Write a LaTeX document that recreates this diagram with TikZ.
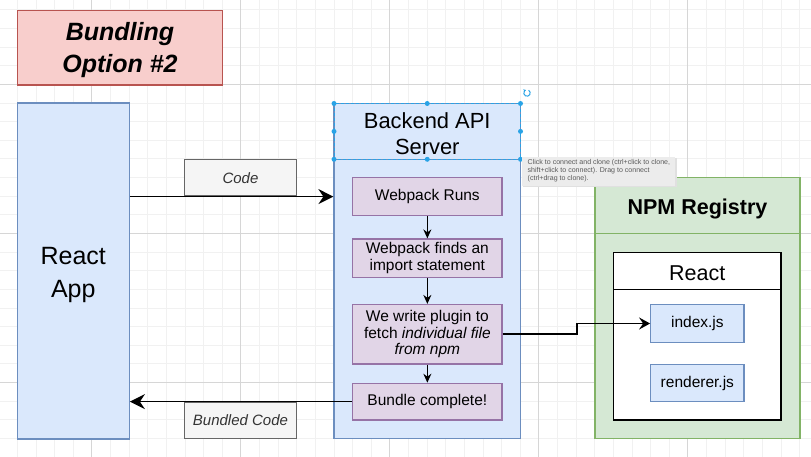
\documentclass[tikz,border=0pt]{standalone}
\usepackage{fontspec}
\setmainfont{Liberation Sans}
\usetikzlibrary{arrows.meta}
\definecolor{blueF}{HTML}{DAE8FC}
\definecolor{blueS}{HTML}{6C8EBF}
\definecolor{redF}{HTML}{F8CECC}
\definecolor{redS}{HTML}{B85450}
\definecolor{purF}{HTML}{E1D5E7}
\definecolor{purS}{HTML}{9673A6}
\definecolor{grnF}{HTML}{D5E8D4}
\definecolor{grnS}{HTML}{82B366}
\definecolor{gryF}{HTML}{F5F5F5}
\definecolor{gryS}{HTML}{666666}
\definecolor{gryT}{HTML}{333333}
\definecolor{gridMinor}{HTML}{F1F1F1}
\definecolor{gridMajor}{HTML}{D6D6D6}
\definecolor{selBlue}{HTML}{29A3E6}
\definecolor{tipF}{HTML}{ECECEC}
\definecolor{tipT}{HTML}{5A5A5A}
\begin{document}
\begin{tikzpicture}[x=1pt,y=-1pt,
  box/.style={draw, line width=1.2pt, inner sep=0pt, align=center, text=black},
  bluebox/.style={box, fill=blueF, draw=blueS},
  purbox/.style={box, fill=purF, draw=purS, minimum width=149.3pt, font=\fontsize{15.5}{16.7}\selectfont},
  lblbox/.style={box, fill=gryF, draw=gryS, text=gryT, minimum width=112.4pt, minimum height=36.7pt, font=\fontsize{15}{17}\selectfont\itshape},
  conn/.style={draw=black, line width=1.6pt},
  bigtip/.style={-{Stealth[length=15pt,width=15pt,inset=5pt]}},
  smalltip/.style={-{Stealth[length=9pt,width=8pt,inset=3pt]}},
  midtip/.style={-{Stealth[length=11pt,width=12pt,inset=4pt]}},
  handle/.style={circle, fill=selBlue, inner sep=0pt, minimum size=5pt}
]
\useasboundingbox (0,0) rectangle (811,457);
\fill[white] (0,0) rectangle (811,457);
% grid
\foreach \i in {0,...,42} {\draw[gridMinor, line width=0.6pt] (17.2+18.625*\i,0) -- (17.2+18.625*\i,457);}
\foreach \j in {0,...,24} {\draw[gridMinor, line width=0.6pt] (0,9.8+18.625*\j) -- (811,9.8+18.625*\j);}
\foreach \i in {0,...,4} {\draw[gridMajor, line width=0.8pt] (91.7+149*\i,0) -- (91.7+149*\i,457);}
\foreach \j in {0,...,2} {\draw[gridMajor, line width=0.8pt] (0,84.3+149*\j) -- (811,84.3+149*\j);}

% title
\node[box, fill=redF, draw=redS, minimum width=205.4pt, minimum height=74.7pt] (title) at (120,47.7) {};
\node[inner sep=0pt, align=center, font=\fontsize{25}{32}\selectfont\bfseries\itshape] (titletext) at (120,50) {Bundling\\Option \#2};

% React App
\node[bluebox, minimum width=112pt, minimum height=336pt] (react) at (73.3,271) {};
\node[inner sep=0pt, align=center, font=\fontsize{25}{33}\selectfont] (reacttext) at (73.3,275) {React\\App};

% Backend
\node[bluebox, minimum width=186.5pt, minimum height=335pt] (backend) at (427.25,271) {};
\coordinate (bhl) at (334,159.3);
\coordinate (bhr) at (520.5,159.3);
\draw[blueS, line width=1.2pt] (bhl) -- (bhr);
\node[align=center, inner sep=0pt, font=\fontsize{21.9}{26}\selectfont] (backendtitle) at (427.25,133.5) {Backend API\\Server};

\node[purbox, minimum height=38pt] (w1) at (427.35,196.7) {Webpack Runs};
\node[purbox, minimum height=38.3pt] (w2) at (427.35,258.15) {Webpack finds an\\import statement};
\node[purbox, minimum height=59.5pt] (w3) at (427.35,334.25) {We write plugin to\\fetch \textit{individual file}\\\textit{from npm}};
\node[purbox, minimum height=36.7pt] (w4) at (427.35,401.65) {Bundle complete!};
\draw[conn, smalltip] (w1) -- (w2);
\draw[conn, smalltip] (w2) -- (w3);
\draw[conn, smalltip] (w3) -- (w4);

% labels and arrows
\node[lblbox] (codelbl) at (240.5,177.65) {Code};
\node[lblbox] (bundlbl) at (240.5,420.35) {Bundled Code};
\draw[conn, bigtip] (react.east |- codelbl.south) -- (backend.west |- codelbl.south);
\draw[conn, bigtip] (w4.west) -- (react.east |- w4.west);

% NPM Registry
\node[box, fill=grnF, draw=grnS, minimum width=205pt, minimum height=261pt] (npm) at (697.5,307.8) {};
\coordinate (nhl) at (595,233.3);
\coordinate (nhr) at (800,233.3);
\draw[grnS, line width=1.2pt] (nhl) -- (nhr);
\node[inner sep=0pt, font=\fontsize{21.5}{26}\selectfont\bfseries] (npmtitle) at (697.5,209) {NPM Registry};

\node[box, fill=white, draw=black, minimum width=167.7pt, minimum height=167.3pt] (reactpkg) at (697.15,336.35) {};
\coordinate (rhl) at (613.3,289.3);
\coordinate (rhr) at (781,289.3);
\draw[black, line width=1.2pt] (rhl) -- (rhr);
\node[inner sep=0pt, font=\fontsize{21.5}{26}\selectfont] (reacttitle) at (697.15,273) {React};

\node[bluebox, minimum width=93.3pt, minimum height=37.6pt, font=\fontsize{15.5}{17}\selectfont] (idx) at (697.35,323.5) {index.js};
\node[bluebox, minimum width=93.3pt, minimum height=37.4pt, font=\fontsize{15.5}{17}\selectfont] (rend) at (697.35,383) {renderer.js};

\coordinate (bend) at (576.7,334.25);
\draw[conn, midtip] (w3.east) -- (bend) |- (idx.west);

% selection handles
\draw[selBlue, line width=0.8pt, dash pattern=on 3pt off 2pt] (334,103.5) rectangle (520.5,159.3);
\foreach \p in {(334,103.5),(427.25,103.5),(520.5,103.5),(334,131.4),(520.5,131.4),(334,159.3),(427.25,159.3),(520.5,159.3)}
  {\node[handle] at \p {};}
\draw[selBlue, line width=1pt, -{Stealth[length=2.5pt,width=3pt]}] (527,93) ++(60:3.2pt) arc[start angle=60, end angle=-250, radius=3.2pt];

% tooltip
\fill[black!12] (523,158.5) rectangle (677,187.5);
\node[fill=tipF, anchor=north west, minimum width=153.5pt, minimum height=28.8pt, inner sep=0pt] (tip) at (521.5,156.7) {};
\node[anchor=north west, align=left, inner sep=0pt, text=tipT, font=\fontsize{7.05}{8.4}\selectfont] (tiptext) at (527.5,158.8)
  {Click to connect and clone (ctrl+click to clone,\\shift+click to connect). Drag to connect\\(ctrl+drag to clone).};
\end{tikzpicture}
\end{document}
